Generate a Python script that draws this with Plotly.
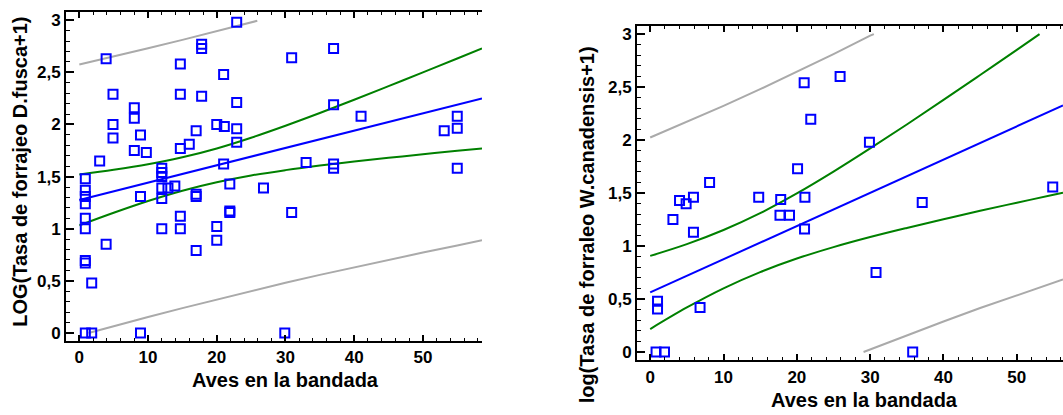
import plotly.graph_objects as go

# ---------------- Left panel data (D. fusca) ----------------
left_x = [3.9, 22.9, 17.8, 17.8, 14.7, 21.0, 4.9, 14.7, 17.8, 22.9,
          8.0, 8.0, 4.9, 20.0, 21.1, 22.9, 17.0, 4.9, 8.9, 8.0,
          9.75, 14.7, 16.0, 22.9, 2.96, 21.0, 0.87, 12.0, 12.0, 12.0,
          0.87, 0.87, 0.87, 12.0, 12.0, 12.9, 13.9, 17.0, 17.0, 8.9,
          21.9, 0.87, 0.87, 12.0, 14.7, 14.7, 21.9, 21.9, 20.0, 20.0,
          17.0, 3.9, 0.87, 0.87, 1.8, 0.87, 1.8, 8.9, 30.9, 37.0,
          37.0, 41.0, 55.0, 53.1, 55.0, 33.0, 37.0, 37.0, 55.0, 26.8,
          30.9, 29.9]
left_y = [2.63, 2.98, 2.77, 2.73, 2.58, 2.48, 2.29, 2.29, 2.27, 2.21,
          2.16, 2.06, 2.0, 2.0, 1.98, 1.96, 1.94, 1.87, 1.90, 1.75,
          1.73, 1.77, 1.81, 1.83, 1.65, 1.62, 1.48, 1.58, 1.54, 1.50,
          1.37, 1.31, 1.24, 1.39, 1.29, 1.39, 1.41, 1.33, 1.31, 1.31,
          1.43, 1.10, 1.0, 1.0, 1.12, 1.0, 1.17, 1.155, 1.02, 0.89,
          0.79, 0.85, 0.695, 0.67, 0.48, 0.0, 0.0, 0.0, 2.64, 2.73,
          2.19, 2.08, 2.08, 1.94, 1.965, 1.635, 1.62, 1.58, 1.58, 1.39,
          1.155, 0.0]

left_fit_x = [0, 58.6]
left_fit_y = [1.276, 2.25]
left_band_x = [0, 5, 10, 15, 20, 25, 30, 35, 40, 45, 50, 55, 58.6]
left_cu_y = [1.52, 1.565, 1.618, 1.685, 1.77, 1.873, 1.988, 2.11, 2.237, 2.368, 2.50, 2.633, 2.73]
left_cl_y = [1.032, 1.153, 1.266, 1.365, 1.446, 1.511, 1.562, 1.606, 1.645, 1.68, 1.714, 1.747, 1.77]
left_pu_x = [0, 5, 10, 15, 20, 25, 25.9]
left_pu_y = [2.576, 2.652, 2.731, 2.812, 2.895, 2.981, 2.995]
left_pl_x = [1.35, 5, 10, 15, 20, 25, 30, 35, 40, 45, 50, 55, 58.6]
left_pl_y = [0.0, 0.066, 0.153, 0.238, 0.321, 0.403, 0.481, 0.557, 0.63, 0.702, 0.771, 0.839, 0.889]

# ---------------- Right panel data (W. canadensis) ----------------
right_x = [4.0, 4.9, 5.9, 8.1, 14.8, 17.8, 21.1, 20.1, 21.0, 21.9,
           3.1, 5.9, 17.7, 19.0, 21.05, 1.0, 1.0, 6.8, 0.8, 1.95,
           25.9, 29.9, 37.1, 54.9, 30.8, 35.8]
right_y = [1.43, 1.40, 1.46, 1.60, 1.46, 1.44, 1.46, 1.73, 2.54, 2.196,
           1.25, 1.13, 1.29, 1.29, 1.16, 0.48, 0.405, 0.42, 0.0, 0.0,
           2.60, 1.98, 1.41, 1.556, 0.75, 0.0]

right_fit_x = [0, 56.3]
right_fit_y = [0.562, 2.327]
right_cu_x = [0, 5, 10, 15, 20, 25, 30, 35, 40, 45, 50, 53.1]
right_cu_y = [0.907, 1.018, 1.151, 1.31, 1.496, 1.702, 1.921, 2.147, 2.379, 2.614, 2.851, 3.0]
right_cl_x = [0, 5, 10, 15, 20, 25, 30, 35, 40, 45, 50, 55, 56.3]
right_cl_y = [0.217, 0.42, 0.601, 0.754, 0.882, 0.99, 1.085, 1.171, 1.253, 1.332, 1.409, 1.483, 1.502]
right_pu_x = [0, 5, 10, 15, 20, 25, 30, 30.5]
right_pu_y = [2.024, 2.171, 2.323, 2.48, 2.643, 2.811, 2.985, 3.0]
right_pl_x = [29.1, 35, 40, 45, 50, 55, 56.3]
right_pl_y = [0.0, 0.157, 0.288, 0.415, 0.537, 0.654, 0.684]

x_ticks = [0, 10, 20, 30, 40, 50]
y_ticks = [0, 0.5, 1, 1.5, 2, 2.5, 3]

BLUE = "#0000FF"
GREEN = "#008000"
GRAY = "#AAAAAA"
FONT = "Liberation Sans"

W, H = 1063, 415

fig = go.Figure()


def add_panel(xa, ya, px, py, fx, fy, cux, cuy, clx, cly, pux, puy, plx, ply):
    common = dict(xaxis=xa, yaxis=ya, showlegend=False, hoverinfo="skip")
    fig.add_trace(go.Scatter(x=pux, y=puy, mode="lines", line=dict(color=GRAY, width=2), **common))
    fig.add_trace(go.Scatter(x=plx, y=ply, mode="lines", line=dict(color=GRAY, width=2), **common))
    fig.add_trace(go.Scatter(x=cux, y=cuy, mode="lines", line=dict(color=GREEN, width=2, shape="spline"), **common))
    fig.add_trace(go.Scatter(x=clx, y=cly, mode="lines", line=dict(color=GREEN, width=2, shape="spline"), **common))
    fig.add_trace(go.Scatter(x=fx, y=fy, mode="lines", line=dict(color=BLUE, width=2), **common))
    fig.add_trace(go.Scatter(x=px, y=py, mode="markers",
                             marker=dict(symbol="square-open", size=9, color=BLUE,
                                         line=dict(color=BLUE, width=2)),
                             cliponaxis=False, **common))


add_panel("x", "y", left_x, left_y, left_fit_x, left_fit_y, left_band_x, left_cu_y,
          left_band_x, left_cl_y, left_pu_x, left_pu_y, left_pl_x, left_pl_y)
add_panel("x2", "y2", right_x, right_y, right_fit_x, right_fit_y, right_cu_x, right_cu_y,
          right_cl_x, right_cl_y, right_pu_x, right_pu_y, right_pl_x, right_pl_y)

tickfont = dict(family=FONT, size=17, color="black", weight="bold")


def xaxis_style(domain, rng, anchor):
    return dict(domain=domain, range=rng, anchor=anchor, tickvals=x_ticks,
                showline=True, linecolor="black", linewidth=2, mirror="ticks",
                ticks="inside", ticklen=6, tickwidth=2, tickcolor="black",
                minor=dict(ticks="inside", ticklen=3, tickwidth=1, dtick=2, tickcolor="black"),
                showgrid=False, zeroline=False, tickfont=tickfont)


def yaxis_style(domain, rng, anchor):
    return dict(domain=domain, range=rng, anchor=anchor, tickvals=y_ticks,
                showline=True, linecolor="black", linewidth=2, mirror=False,
                ticks="inside", ticklen=8, tickwidth=2, tickcolor="black",
                minor=dict(ticks="inside", ticklen=4, tickwidth=1, dtick=0.1, tickcolor="black"),
                showgrid=False, zeroline=False, tickfont=tickfont)


fig.update_layout(
    width=W, height=H,
    margin=dict(l=0, r=0, t=0, b=0),
    paper_bgcolor="white", plot_bgcolor="white",
    separators=", ",
    xaxis=xaxis_style([66 / W, 482 / W], [-1.94, 58.6], "y"),
    yaxis=yaxis_style([(H - 342) / H, (H - 11) / H], [-0.073, 3.08], "x"),
    xaxis2=xaxis_style([637 / W, 1.0], [-1.8, 56.3], "y2"),
    yaxis2=yaxis_style([(H - 362) / H, (H - 25) / H], [-0.079, 3.078], "x2"),
)

title_font = dict(family=FONT, size=20, color="black", weight="bold")
annots = [
    dict(text="Aves en la bandada", x=285 / W, y=(H - 382) / H),
    dict(text="Aves en la bandada", x=864 / W, y=(H - 402) / H),
    dict(text="LOG(Tasa de forrajeo D.fusca+1)", x=20 / W, y=(H - 172) / H, textangle=-90),
    dict(text="log(Tasa de forraleo W.canadensis+1)", x=587 / W, y=(H - 226) / H, textangle=-90),
]
for a in annots:
    fig.add_annotation(xref="paper", yref="paper", xanchor="center", yanchor="middle",
                       showarrow=False, font=title_font, **a)

fig.write_html("out.html", config={"displayModeBar": False},
               post_script="document.body.style.margin='0';document.body.style.overflow='hidden';")
